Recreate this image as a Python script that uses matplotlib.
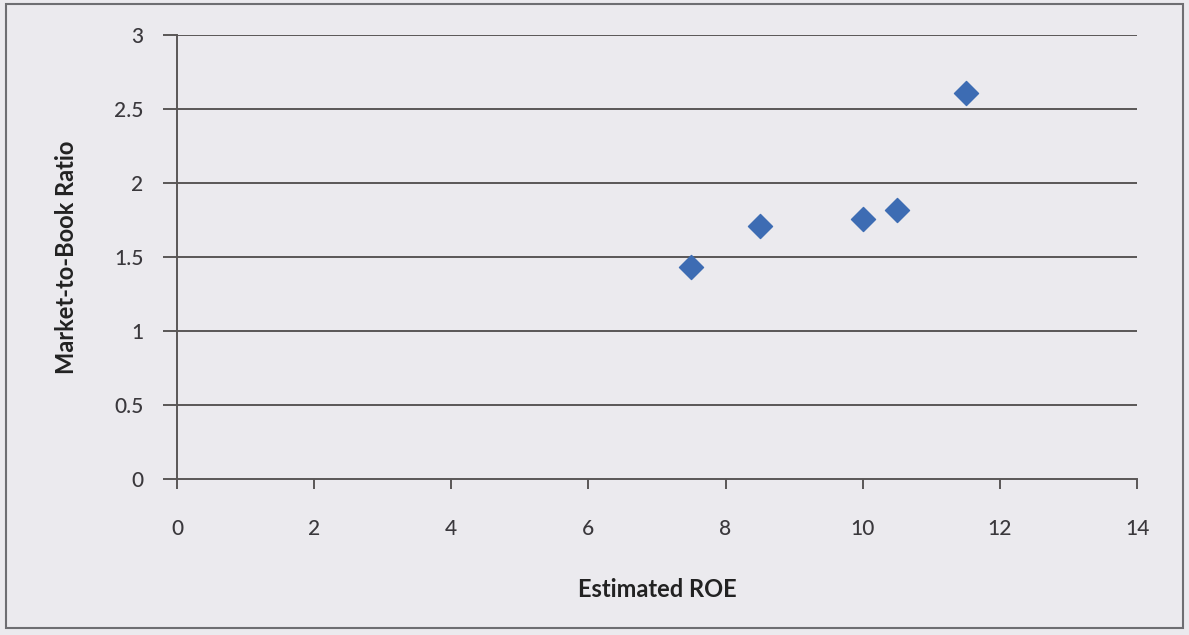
import matplotlib.pyplot as plt
from matplotlib.patches import Rectangle

# estimated ROE vs market-to-book ratio
roe = [7.5, 8.5, 10.0, 10.5, 11.5]
mtb = [1.43, 1.71, 1.76, 1.82, 2.61]
x_ticks = [0, 2, 4, 6, 8, 10, 12, 14]
y_ticks = [0, 0.5, 1, 1.5, 2, 2.5, 3]
y_tick_labels = ["0", "0.5", "1", "1.5", "2", "2.5", "3"]

bg = "#ebeaee"
grid_col = "#5a5656"
text_col = "#3a383c"

plt.rcParams['font.family'] = ['Lato', 'DejaVu Sans']

fig = plt.figure(figsize=(11.89, 6.35), dpi=100, facecolor=bg)
ax = fig.add_axes([0.1489, 0.2457, 0.8074, 0.6992])
ax.set_facecolor(bg)

# outer chart border
fig.patches.append(Rectangle((0.005, 0.011), 0.990, 0.982, transform=fig.transFigure,
                             fill=False, edgecolor="#6e6e72", linewidth=1.5))

ax.scatter(roe, mtb, marker='D', s=150, color="#3d6cb3", zorder=3)

ax.set_xlim(0, 14)
ax.set_ylim(0, 3)
ax.set_xticks(x_ticks)
ax.set_yticks(y_ticks)
ax.set_yticklabels(y_tick_labels)

for v in y_ticks[1:]:
    ax.axhline(v, color=grid_col, linewidth=1.4, zorder=1)

for side in ['top', 'right']:
    ax.spines[side].set_visible(False)
for side in ['left', 'bottom']:
    ax.spines[side].set_color(grid_col)
    ax.spines[side].set_linewidth(1.4)

ax.tick_params(axis='y', length=10, width=1.4, color=grid_col, pad=14,
               labelsize=15, labelcolor=text_col)
ax.tick_params(axis='x', length=7, width=1.4, color=grid_col, pad=22,
               labelsize=15, labelcolor=text_col)
for lbl in ax.get_xticklabels() + ax.get_yticklabels():
    lbl.set_fontweight('medium')

ax.set_xlabel("Estimated ROE", fontsize=17, fontweight='bold', color="#222222", labelpad=28)
ax.set_ylabel("Market-to-Book Ratio", fontsize=17, fontweight='bold', color="#222222", labelpad=26)

fig.savefig("out.png", dpi=100, facecolor=bg)
